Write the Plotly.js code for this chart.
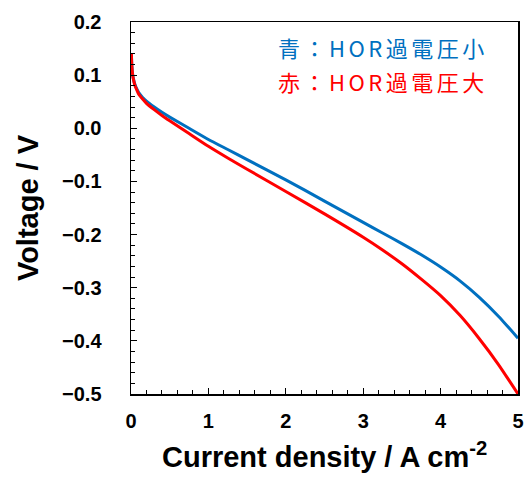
<!DOCTYPE html>
<html>
<head>
<meta charset="utf-8">
<script src="https://cdn.plot.ly/plotly-3.0.1.min.js"></script>
<style>
html,body{margin:0;padding:0;background:#fff;}
#chart{width:527px;height:479px;}
</style>
</head>
<body>
<div id="chart"></div>
<script>
var currentDensity = [0.005, 0.01, 0.02, 0.03, 0.05, 0.075, 0.1, 0.15, 0.2, 0.3, 0.4, 0.5, 0.75, 1.0, 1.25, 1.5, 2.0, 2.5, 3.0, 3.25, 3.5, 3.75, 4.0, 4.25, 4.5, 4.75, 5.0];
var voltageLow = [0.141, 0.120, 0.103, 0.094, 0.083, 0.074, 0.067, 0.058, 0.051, 0.040, 0.030, 0.021, 0.000, -0.021, -0.040, -0.059, -0.097, -0.137, -0.177, -0.197, -0.217, -0.238, -0.261, -0.287, -0.318, -0.354, -0.395];
var voltageHigh = [0.141, 0.120, 0.102, 0.093, 0.081, 0.072, 0.064, 0.055, 0.047, 0.035, 0.024, 0.014, -0.010, -0.034, -0.056, -0.077, -0.119, -0.161, -0.205, -0.229, -0.255, -0.284, -0.315, -0.352, -0.396, -0.445, -0.500];
var labelLow = "青：HOR過電圧小";
var labelHigh = "赤：HOR過電圧大";
var xTitle = "Current density / A cm<sup>-2</sup>";
var yTitle = "Voltage / V";

var BLUE = "#0070C0", RED = "#FF0000";

var traces = [
  {x: currentDensity, y: voltageLow, mode: "lines", line: {color: BLUE, width: 3, shape: "spline", smoothing: 0.5}, showlegend: false, hoverinfo: "skip"},
  {x: currentDensity, y: voltageHigh, mode: "lines", line: {color: RED, width: 3, shape: "spline", smoothing: 0.5}, showlegend: false, hoverinfo: "skip"}
];

var FAM = "Liberation Sans, Arial, sans-serif";
var tickFont = {family: FAM, size: 20, color: "#000", weight: "bold"};
var axisCommon = {
  showgrid: false, zeroline: false, showline: true, linecolor: "#000", linewidth: 1.5, mirror: true,
  ticks: "inside", ticklen: 6, tickwidth: 1.2, tickcolor: "#000",
  tickfont: tickFont
};

function spaced(t) {
  return "<span style='letter-spacing:3.5px'>" + t + "</span>";
}

var layout = {
  width: 527, height: 479,
  margin: {l: 131, r: 9, t: 22, b: 85},
  paper_bgcolor: "#fff", plot_bgcolor: "#fff",
  font: {family: FAM, color: "#000"},
  xaxis: Object.assign({}, axisCommon, {
    range: [0, 5], dtick: 1, tick0: 0,
    minor: {dtick: 0.2, ticks: "inside", ticklen: 4, tickcolor: "#000", tickwidth: 1},
    ticklabelstandoff: 8
  }),
  yaxis: Object.assign({}, axisCommon, {
    range: [-0.5, 0.2], dtick: 0.1, tick0: 0, tickformat: ".1f",
    minor: {dtick: 0.02, ticks: "inside", ticklen: 4, tickcolor: "#000", tickwidth: 1},
    ticklabelstandoff: 24,
    title: {text: "<b>" + yTitle + "</b>", font: {size: 29, family: FAM, color: "#000"}, standoff: 15}
  }),
  annotations: [
    {text: "<b>" + xTitle + "</b>", xref: "paper", yref: "paper", x: 0.5, y: -0.165, xanchor: "center", yanchor: "middle", showarrow: false,
     font: {family: FAM, size: 29, color: "#000"}},
    {text: spaced(labelLow), xref: "paper", yref: "paper", x: 0.375, y: 0.932, xanchor: "left", yanchor: "middle", showarrow: false,
     font: {family: "Noto Sans CJK JP", size: 22, color: BLUE}},
    {text: spaced(labelHigh), xref: "paper", yref: "paper", x: 0.375, y: 0.841, xanchor: "left", yanchor: "middle", showarrow: false,
     font: {family: "Noto Sans CJK JP", size: 22, color: RED}}
  ]
};

Plotly.newPlot("chart", traces, layout, {staticPlot: true, displayModeBar: false});
</script>
</body>
</html>
